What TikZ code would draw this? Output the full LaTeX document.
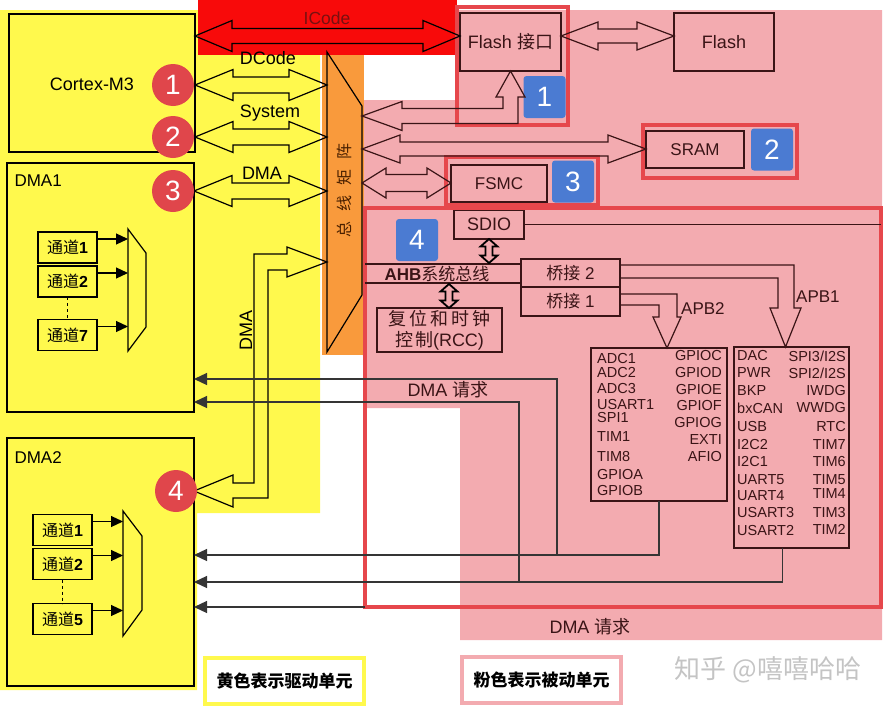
\documentclass[tikz,border=0pt]{standalone}
\usepackage{fontspec}
\setmainfont{Liberation Sans}
\newfontfamily\cjk{Noto Sans CJK SC}
\newcommand\zh[1]{{\cjk #1}}
\usepackage{tikz}
\usetikzlibrary{arrows.meta, calc}
\usepackage{xcolor}
\definecolor{DYellow}{HTML}{FFF94D}
\definecolor{DPink}{HTML}{F3ABB0}
\definecolor{DOrange}{HTML}{F99A3C}
\definecolor{DRedBand}{HTML}{F80A0A}
\definecolor{DFrame}{HTML}{E6474C}
\definecolor{DBlue}{HTML}{4B7BD2}
\definecolor{DCircle}{HTML}{E0464B}
\definecolor{DInk}{HTML}{3A1416}
\definecolor{DReq}{HTML}{353535}
\definecolor{DBand}{HTML}{7A1010}
\definecolor{DMatrix}{HTML}{4A2000}
\definecolor{DGrey}{HTML}{C4C4C4}

% hollow double arrow, left/right tips: [style]{left}{right}{shaft half}{head half}{head length}
\newcommand\hdarrow[6][]{%
  \draw[fat,#1] (#2) -- ($(#2)+(#6,-#5)$) -- ($(#2)+(#6,-#4)$)
    -- ($(#3)+(-#6,-#4)$) -- ($(#3)+(-#6,-#5)$) -- (#3)
    -- ($(#3)+(-#6,#5)$) -- ($(#3)+(-#6,#4)$)
    -- ($(#2)+(#6,#4)$) -- ($(#2)+(#6,#5)$) -- cycle;}
% same, upright: [style]{top}{bottom}{shaft half}{head half}{head length}
\newcommand\vdarrow[6][]{%
  \draw[fat,#1] (#2) -- ($(#2)+(-#5,#6)$) -- ($(#2)+(-#4,#6)$)
    -- ($(#3)+(-#4,-#6)$) -- ($(#3)+(-#5,-#6)$) -- (#3)
    -- ($(#3)+(#5,-#6)$) -- ($(#3)+(#4,-#6)$)
    -- ($(#2)+(#4,#6)$) -- ($(#2)+(#5,#6)$) -- cycle;}

\begin{document}
\begin{tikzpicture}[x=1pt, y=-1pt, >=Stealth,
  font=\fontsize{18}{21}\selectfont,
  box/.style={draw, line width=1.2pt, inner sep=0pt, outer sep=0pt},
  pbox/.style={box, draw=DInk, text=DInk},
  frame/.style={draw=DFrame, line width=3.4pt, inner sep=0pt, outer sep=0pt},
  badge/.style={fill=DBlue, rounded corners=3pt, minimum size=42pt, inner sep=0pt,
    text=white, font=\fontsize{28}{28}\selectfont},
  dot/.style={circle, fill=DCircle, minimum size=42pt, inner sep=0pt,
    text=white, font=\fontsize{28}{28}\selectfont},
  fat/.style={draw, line width=1.2pt, line join=miter},
  ink/.style={draw=DInk, line width=1.2pt},
  chbox/.style={box, minimum width=59pt, minimum height=31pt,
    font=\fontsize{16}{18}\selectfont},
  chan/.style={-{Triangle[length=12pt,width=11pt]}, line width=1.2pt},
  req/.style={-{Triangle[length=13pt,width=12pt]}, draw=DReq, line width=1.2pt},
  apb/.style={text=DInk, inner sep=0pt, font=\fontsize{14.5}{16}\selectfont},
  legend/.style={fill=white, line width=4pt, minimum width=159pt, minimum height=46pt,
    font={\cjk\bfseries\fontsize{17}{20}\selectfont}}]
  \useasboundingbox (0,0) rectangle (887,707);

  % Backgrounds
  \fill[DYellow] (0,10) -- (320,10) -- (320,513) -- (197,513) -- (197,690) -- (0,690) -- cycle;
  \fill[DPink] (457,10) -- (882,10) -- (882,640) -- (460,640) -- (460,408) -- (365,408)
    -- (365,355) -- (362,355) -- (362,100) -- (457,100) -- cycle;
  \fill[DRedBand] (198,0) rectangle (457,55);
  \fill[DOrange] (322,55) rectangle (364,355);

  % Bus matrix
  \draw[line width=1.2pt] (327,52) -- (362,106) -- (362,295) -- (327,352) -- cycle;
  \node[rotate=90, text=DMatrix, font=\fontsize{16}{18}\selectfont] (bmlbl) at (344,190)
    {\zh{总\kern10pt 线\kern10pt 矩\kern10pt 阵}};
  \coordinate (bmDC) at (327,85);
  \coordinate (bmSys) at (327,137);
  \coordinate (bmDMA) at (327,191);
  \coordinate (bmDMA2) at (327,262);
  \coordinate (bmFlash) at (362,116);
  \coordinate (bmSRAM) at (362,149);
  \coordinate (bmFSMC) at (362,183);

  % Masters
  \node[box, minimum width=186pt, minimum height=138pt] (cortex) at (102,83) {};
  \node (cortexlbl) at (92,84) {Cortex-M3};
  \node[box, minimum width=187pt, minimum height=249pt] (dma1) at (100.5,287.5) {};
  \node[anchor=west, font=\fontsize{17}{20}\selectfont] (dma1lbl) at (11,181) {DMA1};
  \node[box, minimum width=187pt, minimum height=248pt] (dma2) at (100.5,562) {};
  \node[anchor=west, font=\fontsize{17}{20}\selectfont] (dma2lbl) at (11,458) {DMA2};

  % Channels and muxes
  \foreach \n/\y/\t in {ch11/247.5/1, ch12/281.5/2, ch17/335/7}
    \node[chbox] (\n) at (67.5,\y) {\zh{通道}\textbf{\t}};
  \foreach \n/\y/\t in {ch21/530/1, ch22/564/2, ch25/619/5}
    \node[chbox] (\n) at (62.5,\y) {\zh{通道}\textbf{\t}};
  \draw[line width=1.2pt] (128,229) coordinate (mux1) -- (146,253) -- (146,327) -- (128,351) -- cycle;
  \draw[line width=1.2pt] (123,511) coordinate (mux2) -- (142,536) -- (142,610) -- (123,636) -- cycle;
  \foreach \n in {ch11, ch12, ch17}
    \draw[chan] ($(\n.north east)+(0,7)$) -- ($(\n.north east -| mux1)+(0,7)$);
  \foreach \n in {ch21, ch22, ch25}
    \draw[chan] ($(\n.north east)+(0,7)$) -- ($(\n.north east -| mux2)+(0,7)$);
  \draw[dashed, line width=1pt] (ch12.south) -- (ch17.north);
  \draw[dashed, line width=1pt] (ch22.south) -- (ch25.north);

  % Slaves
  \node[pbox, minimum width=101pt, minimum height=58pt] (flashif) at (510.5,42) {Flash \zh{接口}};
  \node[pbox, minimum width=100pt, minimum height=58pt] (flash) at (724,42) {Flash};
  \node[pbox, minimum width=98pt, minimum height=37pt, font=\fontsize{17}{20}\selectfont] (sram) at (695,149.5) {SRAM};
  \node[pbox, minimum width=96pt, minimum height=37pt, font=\fontsize{17}{20}\selectfont] (fsmc) at (499,183.5) {FSMC};
  \node[pbox, minimum width=70pt, minimum height=29pt] (sdio) at (489,224.5) {SDIO};
  \node[pbox, minimum width=99pt, minimum height=28pt, font=\fontsize{17}{20}\selectfont] (br2) at (570.5,273) {\zh{桥接} 2};
  \node[pbox, minimum width=99pt, minimum height=29pt, font=\fontsize{17}{20}\selectfont] (br1) at (570.5,301.5) {\zh{桥接} 1};
  \node[pbox, line width=2pt, minimum width=125pt, minimum height=44pt, align=center,
    font=\fontsize{18}{21}\selectfont] (rcc) at (439.5,330)
    {\zh{复\kern3pt 位\kern3pt 和\kern3pt 时\kern3pt 钟}\\\zh{控\kern2pt 制}(RCC)};
  \node[pbox, minimum width=136pt, minimum height=153pt] (apb2) at (659,424.5) {};
  \node[pbox, minimum width=115pt, minimum height=201pt] (apb1) at (791.5,447.5) {};

  % Frames and badges
  \node[frame, minimum width=111pt, minimum height=118pt] (flashfr) at (512.5,66) {};
  \node[frame, minimum width=154pt, minimum height=53pt] (sramfr) at (720,151.5) {};
  \node[frame, minimum width=152pt, minimum height=48pt] (fsmcfr) at (522,181) {};
  \node[frame, minimum width=516pt, minimum height=399pt] (ahb) at (623,407.5) {};
  \node[badge] (b1) at (544.5,97) {1};
  \node[badge] (b2) at (772,149.5) {2};
  \node[badge] (b3) at (573,181.5) {3};
  \node[badge] (b4) at (417,240) {4};

  % Buses of the masters
  \coordinate (icL) at (cortex.east |- 0,36);
  \coordinate (icR) at (flashif.west |- icL);
  \hdarrow{icL}{icR}{7.5}{15.5}{37}
  \node[text=DBand, font=\fontsize{17.5}{20}\selectfont] (iclbl) at (327,18) {ICode};
  \coordinate (dcL) at (cortex.east |- bmDC);
  \hdarrow{dcL}{bmDC}{8}{15.5}{38}
  \node (dclbl) at (268,58) {DCode};
  \coordinate (sysL) at (cortex.east |- bmSys);
  \hdarrow{sysL}{bmSys}{8}{15.5}{38}
  \node (syslbl) at (270,113) {System};
  \coordinate (dmaL) at (dma1.east |- bmDMA);
  \hdarrow{dmaL}{bmDMA}{8}{15.5}{38}
  \node (dmalbl) at (262,173) {DMA};
  % DMA2 bus
  \coordinate (dma2tip) at (dma2.east |- 0,491);
  \draw[fat] (bmDMA2) -- (287,247) -- (287,254) -- (254,254) -- (254,483) -- (233,483)
    -- (233,475) -- (dma2tip) -- (233,507) -- (233,498) -- (268,498) -- (268,270)
    -- (287,270) -- (287,277) -- cycle;
  \node[rotate=90] (dmavlbl) at (246,330) {DMA};

  % Buses of the slaves
  \draw[fat, draw=DInk] (bmFlash) -- (402,101.5) -- (402,108.5) -- (503,108.5) -- (503,97)
    -- (496,97) -- (flashif.south) -- (525,97) -- (518,97) -- (518,123.5) -- (402,123.5)
    -- (402,130.5) -- cycle;
  \coordinate (fiR) at (flashif.east |- icL);
  \coordinate (flL) at (flash.west |- icL);
  \hdarrow[draw=DInk]{fiR}{flL}{7}{14}{37}
  \coordinate (sramL) at (sram.west |- bmSRAM);
  \hdarrow[draw=DInk]{bmSRAM}{sramL}{7}{14}{38}
  \coordinate (fsmcL) at (fsmc.west |- bmFSMC);
  \hdarrow[draw=DInk]{bmFSMC}{fsmcL}{8.5}{15}{24}

  % AHB
  \draw[ink] (ahb.west |- 0,264) -- (br2.west |- 0,264);
  \draw[ink] (ahb.west |- 0,283) -- (br2.west |- 0,283);
  \node[text=DInk, font=\fontsize{17}{20}\selectfont] (ahblbl) at (437,274) {\textbf{AHB}\zh{系统总线}};
  \draw[ink] (sdio.east) -- (sdio.east -| ahb.east);
  \coordinate (sdioB) at (sdio.south |- 0,263);
  \vdarrow[line width=1.8pt]{sdio.south}{sdioB}{3.5}{8.5}{7.5}
  \coordinate (rccT) at ($(rcc.north)+(9.5,-24)$);
  \coordinate (rccB) at ($(rcc.north)+(9.5,0)$);
  \vdarrow[line width=1.8pt]{rccT}{rccB}{3.5}{8.5}{7.5}

  % APB bridges
  \coordinate (apb1tip) at ($(apb1.north)+(-6,0)$);
  \draw[fat, draw=DInk] (br2.east |- 0,265) -- (794,265) -- (794,308) -- (801,308) -- (apb1tip)
    -- (770,308) -- (778,308) -- (778,278) -- (br2.east |- 0,278);
  \node[apb, anchor=west, font=\fontsize{17}{20}\selectfont] (apb1lbl) at (796,297) {APB1};
  \coordinate (apb2tip) at ($(apb2.north)+(8,0)$);
  \draw[fat, draw=DInk] (br1.east |- 0,294) -- (677,294) -- (677,317) -- (681,317) -- (apb2tip)
    -- (653,317) -- (659,317) -- (659,305) -- (br1.east |- 0,305);
  \node[apb, anchor=west, font=\fontsize{17}{20}\selectfont] (apb2lbl) at (681,309) {APB2};

  % APB2 peripherals
  \foreach \y/\t [count=\i] in {359/ADC1, 373/ADC2, 389/ADC3, 405/USART1, 418/SPI1,
      437/TIM1, 457/TIM8, 475/GPIOA, 491/GPIOB}
    \node[apb, anchor=west] (p2l\i) at (597,\y) {\t};
  \foreach \y/\t [count=\i] in {356/GPIOC, 373/GPIOD, 390/GPIOE, 406/GPIOF, 423/GPIOG,
      440/EXTI, 457/AFIO}
    \node[apb, anchor=east] (p2r\i) at (722,\y) {\t};
  % APB1 peripherals
  \foreach \y/\t [count=\i] in {356/DAC, 373/PWR, 391/BKP, 408/bxCAN, 427/USB, 445/I2C2,
      462/I2C1, 480/UART5, 496/UART4, 513/USART3, 531/USART2}
    \node[apb, anchor=west] (p1l\i) at (737,\y) {\t};
  \foreach \y/\t [count=\i] in {356/{SPI3/I2S}, 373/{SPI2/I2S}, 391/IWDG, 408/WWDG, 427/RTC,
      445/TIM7, 462/TIM6, 480/TIM5, 494/TIM4, 513/TIM3, 529/TIM2}
    \node[apb, anchor=east] (p1r\i) at (846,\y) {\t};

  % DMA requests
  \coordinate (jB) at (557,555);
  \coordinate (jC) at (519,582);
  \draw[req] (apb2.south) |- (dma2.east |- jB);
  \draw[req] ($(apb1.south)+(-9,0)$) |- (dma2.east |- jC);
  \draw[req] (jB) |- (dma1.east |- 0,379);
  \draw[req] (jC) |- (dma1.east |- 0,402);
  \draw[req] (ahb.south west) -- (dma2.east |- ahb.south west);
  \node[text=DInk] (req1lbl) at (448,390) {DMA \zh{请求}};
  \node[text=DInk] (req2lbl) at (590,627) {DMA \zh{请求}};

  % Master numbers
  \node[dot] (n1) at (173,85) {1};
  \node[dot] (n2) at (173,137) {2};
  \node[dot] (n3) at (173,191) {3};
  \node[dot] (n4) at (176,491) {4};

  % Legend
  \node[legend, draw=DYellow] (legY) at (284.5,681) {黄色表示驱动单元};
  \node[legend, draw=DPink] (legP) at (541.5,680) {粉色表示被动单元};
  \node[text=DGrey, font={\cjk\fontsize{26}{28}\selectfont}] (wm) at (768,670) {知乎 @嘻嘻哈哈};
\end{tikzpicture}
\end{document}
